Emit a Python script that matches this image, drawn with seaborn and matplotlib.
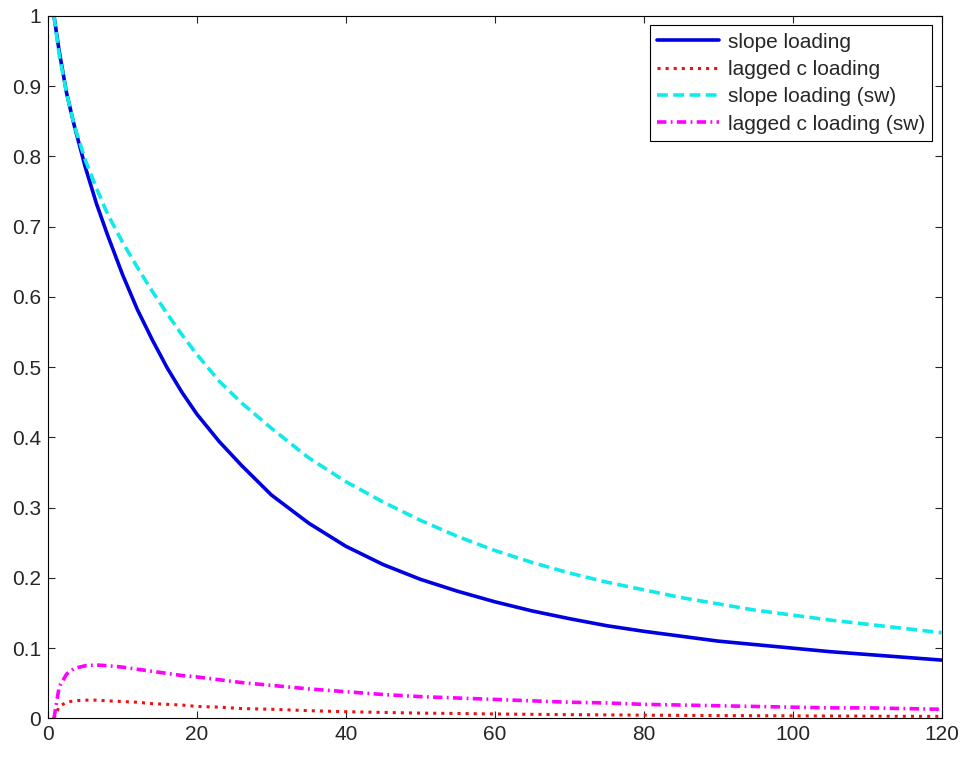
#!/usr/bin/env python3
import pandas as pd
import seaborn as sns
import matplotlib.pyplot as plt
from matplotlib.ticker import FormatStrFormatter

# maturity (x) and the four loadings
maturity = [0.8, 1.5, 2.5, 3.5, 5, 6.5, 8, 10, 12, 14, 16, 18, 20, 23, 26, 30,
            35, 40, 45, 50, 55, 60, 65, 70, 75, 80, 85, 90, 95, 100, 105, 110,
            115, 120]

slope = [1.0, 0.95, 0.89, 0.845, 0.785, 0.733, 0.688, 0.632, 0.582, 0.539,
         0.499, 0.464, 0.433, 0.394, 0.36, 0.318, 0.278, 0.245, 0.219, 0.198,
         0.181, 0.166, 0.153, 0.142, 0.132, 0.124, 0.117, 0.110, 0.105, 0.100,
         0.095, 0.091, 0.087, 0.083]

lagged_c = [0.0, 0.017, 0.023, 0.025, 0.026, 0.026, 0.025, 0.024, 0.023, 0.021,
            0.020, 0.019, 0.017, 0.016, 0.014, 0.013, 0.011, 0.0095, 0.0085,
            0.0075, 0.007, 0.0063, 0.0058, 0.0053, 0.005, 0.0046, 0.0043,
            0.004, 0.0038, 0.0036, 0.0034, 0.0032, 0.003, 0.0029]

slope_sw = [1.0, 0.945, 0.89, 0.845, 0.795, 0.755, 0.718, 0.678, 0.642, 0.608,
            0.576, 0.546, 0.518, 0.48, 0.449, 0.413, 0.371, 0.337, 0.308,
            0.282, 0.259, 0.239, 0.222, 0.207, 0.194, 0.183, 0.172, 0.163,
            0.154, 0.147, 0.140, 0.134, 0.128, 0.122]

lagged_c_sw = [0.0, 0.045, 0.063, 0.071, 0.075, 0.076, 0.075, 0.073, 0.070,
               0.067, 0.064, 0.061, 0.059, 0.055, 0.051, 0.047, 0.042, 0.038,
               0.034, 0.031, 0.029, 0.027, 0.025, 0.023, 0.022, 0.020, 0.019,
               0.018, 0.017, 0.016, 0.015, 0.015, 0.014, 0.013]

sns.set_style("ticks")
plt.rcParams['font.family'] = ['Liberation Sans', 'DejaVu Sans']

fig = plt.figure(figsize=(9.64, 7.59), dpi=100)
ax = fig.add_axes([0.0498, 0.0535, 0.927, 0.9255])

df = pd.DataFrame({'x': maturity, 'slope': slope, 'lagged': lagged_c,
                   'slope_sw': slope_sw, 'lagged_sw': lagged_c_sw})

sns.lineplot(data=df, x='x', y='slope', ax=ax, color='#0000e0', lw=2.6,
             label='slope loading')
sns.lineplot(data=df, x='x', y='lagged', ax=ax, color='#ee1111', lw=2.2,
             linestyle=':', label='lagged c loading')
sns.lineplot(data=df, x='x', y='slope_sw', ax=ax, color='#11eaea', lw=2.6,
             linestyle=(0, (3, 1.5)), label='slope loading (sw)')
sns.lineplot(data=df, x='x', y='lagged_sw', ax=ax, color='#ff00ff', lw=2.6,
             linestyle=(0, (2.6, 1.2, 0.5, 1.2)), label='lagged c loading (sw)')

ax.set_xlim(0, 120)
ax.set_ylim(0, 1)
ax.set_xticks(range(0, 121, 20))
ax.set_yticks([i / 10 for i in range(11)])
ax.yaxis.set_major_formatter(FormatStrFormatter('%g'))
ax.set_xlabel('')
ax.set_ylabel('')
ax.tick_params(direction='in', top=True, right=True, length=5, width=0.8,
               labelsize=15, pad=5)
for s in ax.spines.values():
    s.set_color('black')
    s.set_linewidth(0.8)

leg = ax.legend(loc='upper right', fontsize=15, handlelength=3.0,
                borderaxespad=0.45, fancybox=False, framealpha=1,
                edgecolor='black', borderpad=0.35, labelspacing=0.4,
                handletextpad=0.4)
leg.get_frame().set_linewidth(0.8)

fig.savefig('out.png', dpi=100)
